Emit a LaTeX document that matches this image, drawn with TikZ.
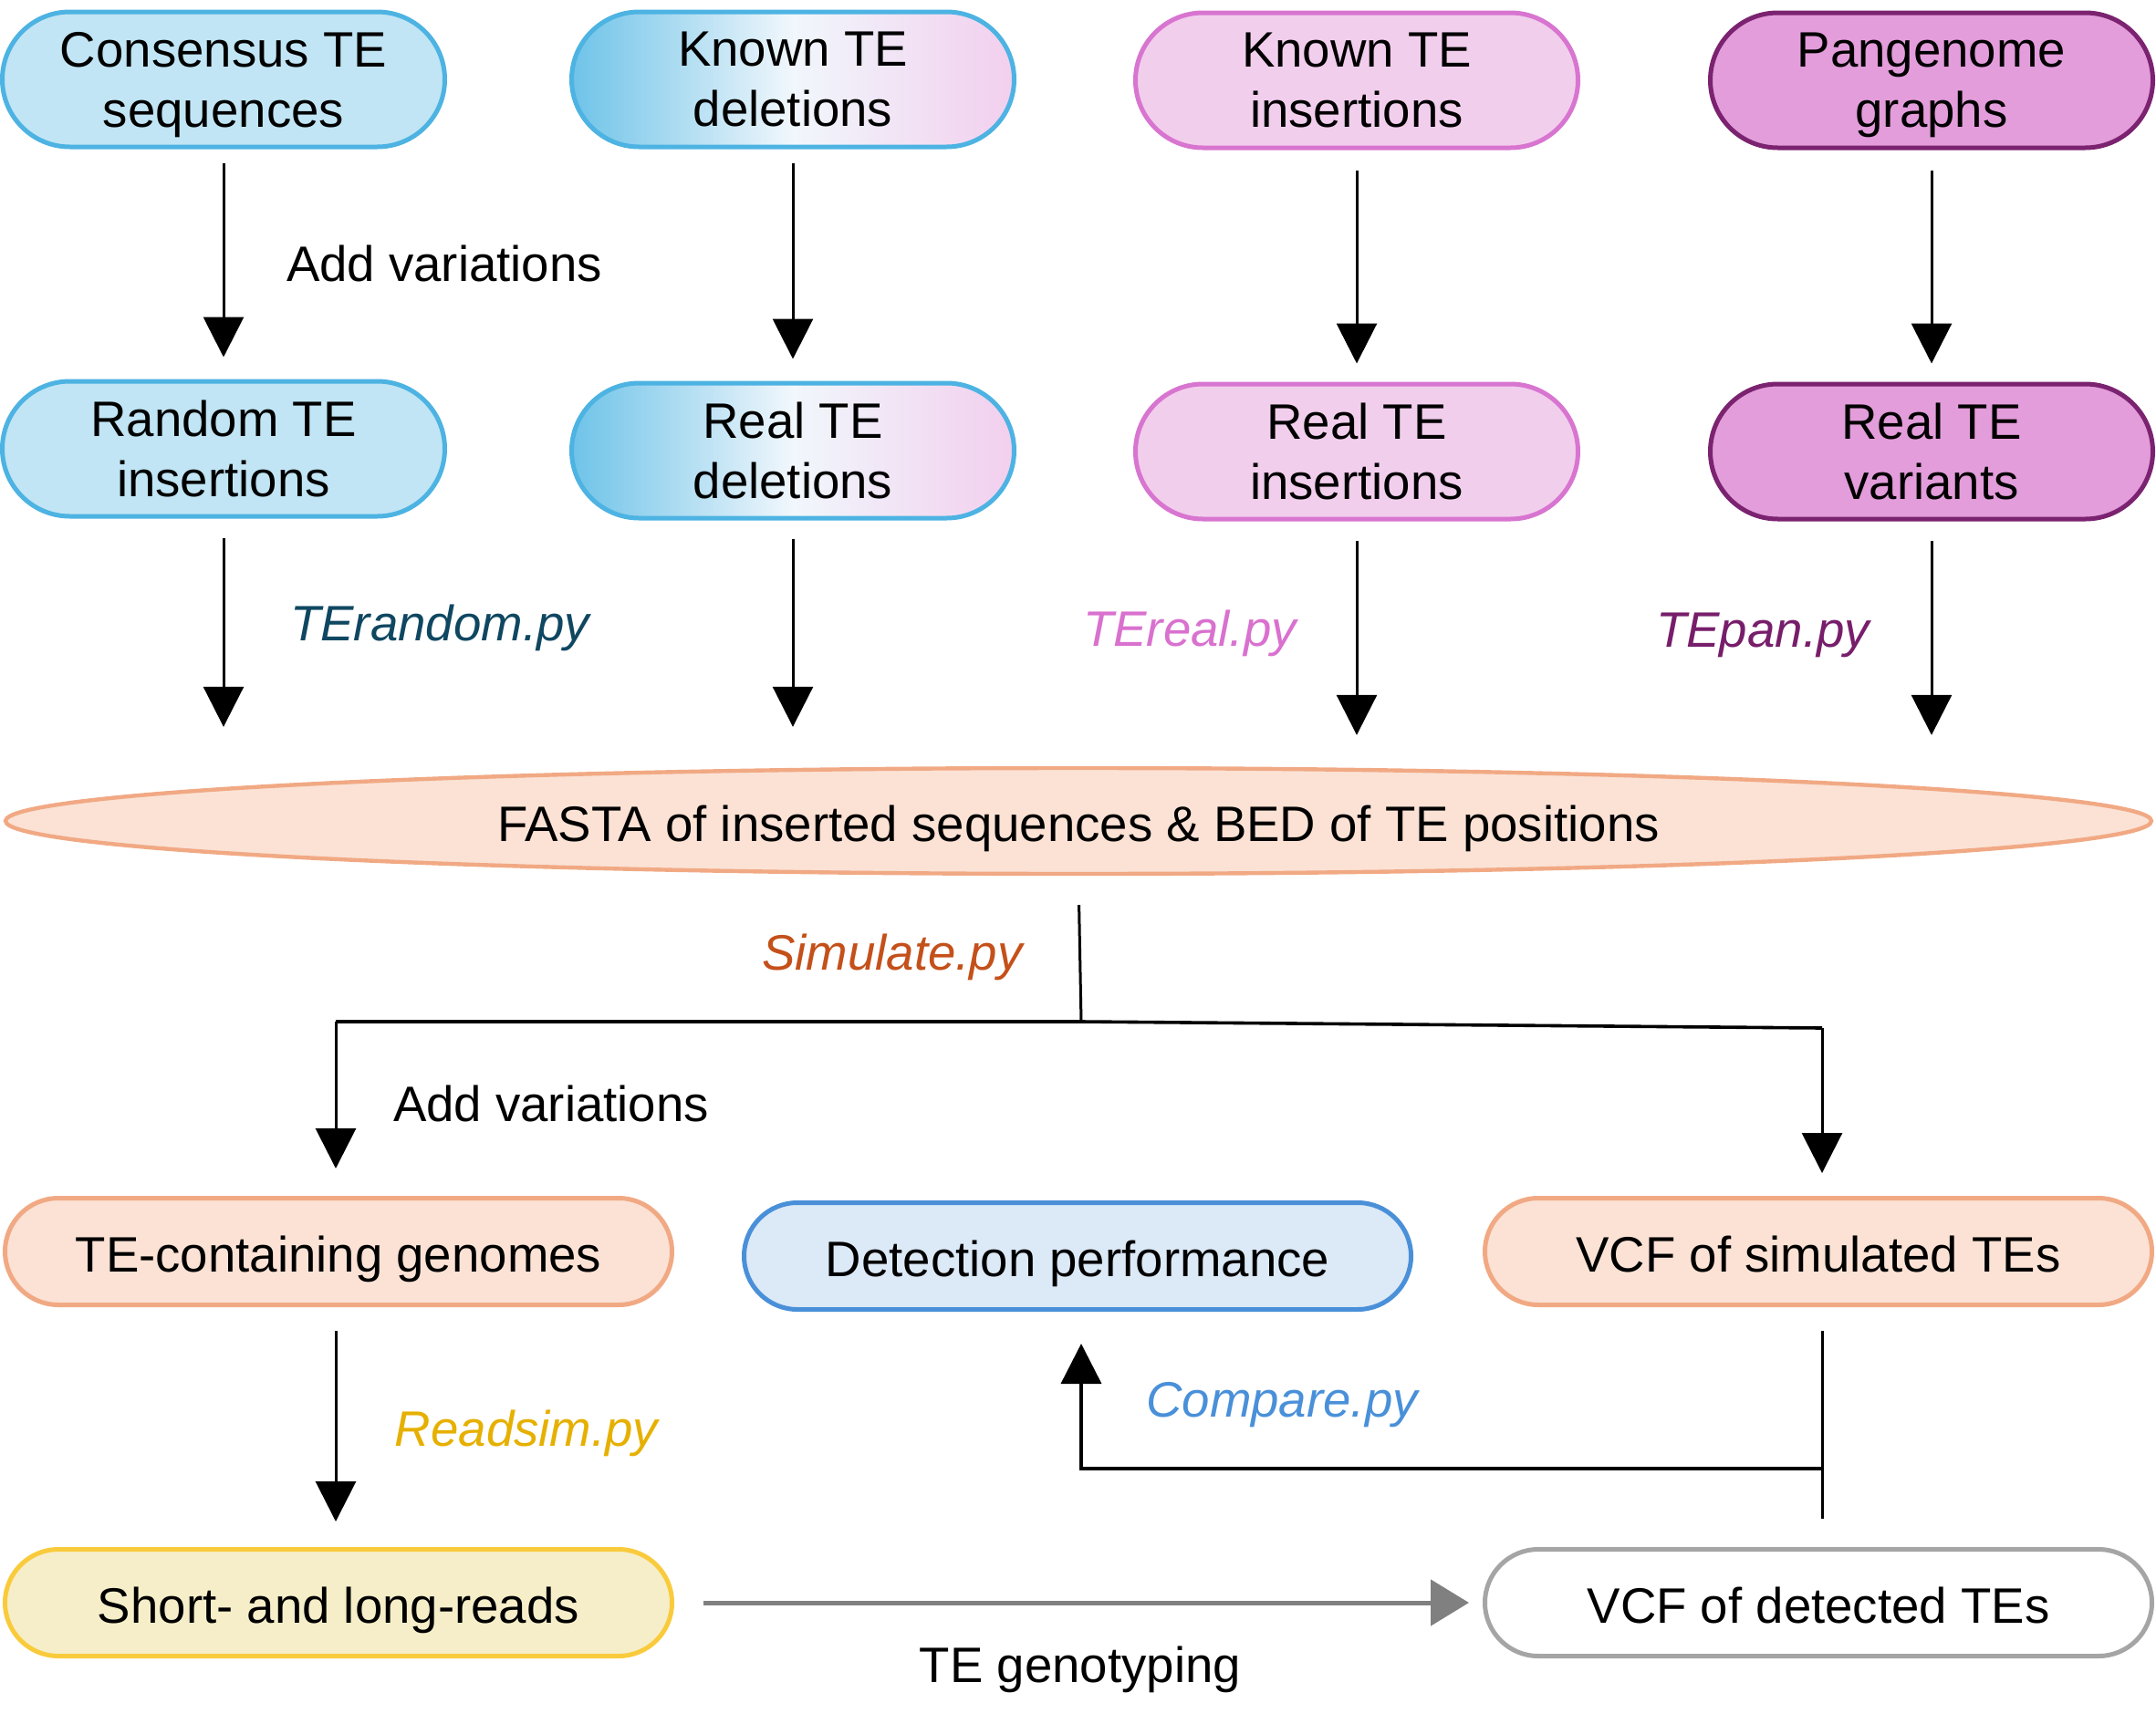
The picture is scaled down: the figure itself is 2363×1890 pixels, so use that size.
\documentclass[tikz,border=0pt]{standalone}
\usepackage{fontspec}
\setmainfont{Liberation Sans}
\usetikzlibrary{shapes.misc,shapes.geometric,arrows.meta}
\definecolor{blueFill}{HTML}{C1E5F4}
\definecolor{blueDraw}{HTML}{4DB3E2}
\definecolor{pinkFill}{HTML}{F2CEED}
\definecolor{pinkDraw}{HTML}{D875D0}
\definecolor{purpFill}{HTML}{E39DDB}
\definecolor{purpDraw}{HTML}{7B2370}
\definecolor{salFill}{HTML}{FBE2D5}
\definecolor{salDraw}{HTML}{F1A984}
\definecolor{detFill}{HTML}{DCE9F7}
\definecolor{detDraw}{HTML}{4A90D9}
\definecolor{yelFill}{HTML}{F6EEC9}
\definecolor{yelDraw}{HTML}{F9CB3C}
\definecolor{greyDraw}{HTML}{A5A5A5}
\definecolor{gL}{HTML}{6EC3E8}
\definecolor{gM}{HTML}{F1F7FC}
\definecolor{gR}{HTML}{F2CFEE}
\definecolor{cRandom}{HTML}{0F4761}
\definecolor{cReal}{HTML}{D971CF}
\definecolor{cPan}{HTML}{771E6B}
\definecolor{cSim}{HTML}{C4501A}
\definecolor{cRead}{HTML}{E6B000}
\definecolor{cComp}{HTML}{4A90D9}
\definecolor{cGeno}{HTML}{808080}
\newcommand{\bigfont}{\fontsize{27.3pt}{33pt}\selectfont}
\begin{document}
\begin{tikzpicture}[x=0.5pt,y=-0.5pt,
  box/.style={rounded rectangle, line width=2.5pt, minimum width=242.5pt,
    minimum height=74pt, inner sep=0pt, align=center, font=\bigfont, text depth=0pt},
  widebox/.style={rounded rectangle, line width=2.5pt, minimum width=365.5pt,
    minimum height=58.5pt, inner sep=0pt, align=center, font=\bigfont,
    text height=22pt, text depth=0pt},
  lbl/.style={font=\bigfont, inner sep=0pt, text height=19.9pt, text depth=0pt},
  pylbl/.style={font=\bigfont\itshape, inner sep=0pt, text height=19.9pt, text depth=0pt},
  conn/.style={line width=1.5pt},
  arr/.style={line width=1.5pt, -{Triangle[length=22pt,width=22pt]}},
  garr/.style={line width=2.5pt, draw=cGeno, -{Triangle[length=21pt,width=25pt]}}
]
\useasboundingbox (0,0) rectangle (2363,1890);

% row 1
\node[box, fill=blueFill, draw=blueDraw] (c1) at (245,87) {Consensus TE\\sequences};
\node[box, draw=blueDraw, left color=gL, right color=gR, middle color=gM] (c2) at (869,87) {Known TE\\deletions};
\node[box, fill=pinkFill, draw=pinkDraw] (c3) at (1487,88) {Known TE\\insertions};
\node[box, fill=purpFill, draw=purpDraw] (c4) at (2117,88) {Pangenome\\graphs};

% row 2
\node[box, fill=blueFill, draw=blueDraw] (r1) at (245,492) {Random TE\\insertions};
\node[box, draw=blueDraw, left color=gL, right color=gR, middle color=gM] (r2) at (869,494) {Real TE\\deletions};
\node[box, fill=pinkFill, draw=pinkDraw] (r3) at (1487,495) {Real TE\\insertions};
\node[box, fill=purpFill, draw=purpDraw] (r4) at (2117,495) {Real TE\\variants};

% ellipse
\node[ellipse, line width=2.2pt, fill=salFill, draw=salDraw, minimum width=1176pt,
  minimum height=58pt, inner sep=0pt, font=\bigfont, text height=22pt, text depth=0pt] (e) at (1182,900)
  {FASTA of inserted sequences \& BED of TE positions};

% row 3
\node[widebox, fill=salFill, draw=salDraw] (g1) at (371,1372) {TE-containing genomes};
\node[widebox, fill=detFill, draw=detDraw] (dp) at (1181,1377) {Detection performance};
\node[widebox, fill=salFill, draw=salDraw] (v1) at (1993,1372) {VCF of simulated TEs};

% row 4
\node[widebox, fill=yelFill, draw=yelDraw] (sr) at (371,1757) {Short- and long-reads};
\node[widebox, fill=white, draw=greyDraw] (v2) at (1993,1757) {VCF of detected TEs};

% arrows row1 -> row2
\draw[arr, shorten <=7.5pt, shorten >=12pt] (c1.south) -- (r1.north);
\draw[arr, shorten <=7.5pt, shorten >=12pt] (c2.south) -- (r2.north);
\draw[arr, shorten <=11pt, shorten >=10pt] (c3.south) -- (r3.north);
\draw[arr, shorten <=11pt, shorten >=10pt] (c4.south) -- (r4.north);

% arrows row2 -> ellipse
\draw[arr, shorten <=10.5pt, shorten >=21.5pt] (r1.south) -- (r1.south |- e.north);
\draw[arr, shorten <=10pt, shorten >=21.5pt] (r2.south) -- (r2.south |- e.north);
\draw[arr, shorten <=10.5pt, shorten >=17pt] (r3.south) -- (r3.south |- e.north);
\draw[arr, shorten <=10.5pt, shorten >=17pt] (r4.south) -- (r4.south |- e.north);

% labels top part
\node[lbl] (av1) at (487,289) {Add variations};
\node[pylbl, text=cRandom] (tr) at (482,683) {TErandom.py};
\node[pylbl, text=cReal] (tre) at (1304,689) {TEreal.py};
\node[pylbl, text=cPan] (tp) at (1932,690) {TEpan.py};

% simulate split
\coordinate (split) at (1185,1120);
\coordinate (jl) at (368,1120);
\coordinate (jr) at (1997,1127);
\draw[conn, shorten <=16pt] (e.south) -- (split);
\draw[conn, line width=1.8pt] (jl) -- (split) -- (jr);
\draw[arr, shorten >=15pt] (jl) -- (jl |- g1.north);
\draw[arr, shorten >=12.5pt] (jr) -- (jr |- v1.north);
\node[pylbl, text=cSim] (sim) at (978,1044) {Simulate.py};
\node[lbl] (av2) at (604,1210) {Add variations};

% readsim
\draw[arr, shorten <=13pt, shorten >=14pt] (jl |- g1.south) -- (jl |- sr.north);
\node[pylbl, text=cRead] (rs) at (577,1566) {Readsim.py};

% genotyping
\draw[garr, shorten <=16pt, shorten >=7.5pt] (sr.east) -- (v2.west);
\node[lbl] (tg) at (1184,1825) {TE genotyping};

% compare
\coordinate (cj) at (1997,1610);
\draw[conn, shorten <=13pt, shorten >=15.5pt] (jr |- v1.south) -- (jr |- v2.north);
\draw[arr, line width=1.8pt, shorten >=17.5pt] (cj) -- (cj -| split) -- (split |- dp.south);
\node[pylbl, text=cComp] (cp) at (1405,1534) {Compare.py};
\end{tikzpicture}
\end{document}
